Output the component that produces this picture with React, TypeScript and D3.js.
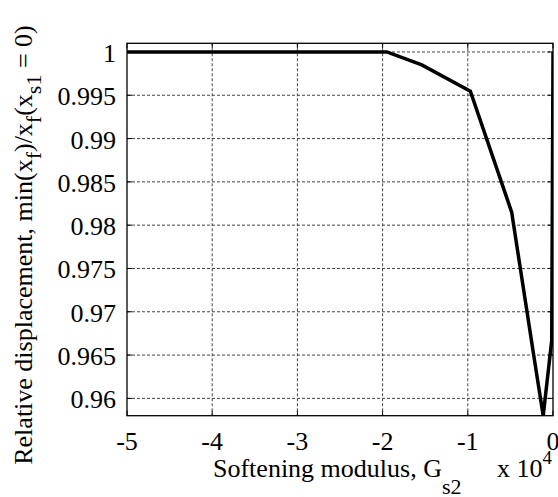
import React, { useEffect } from "react";
import * as d3 from "d3";

// Data (x in units of 1e4)
const gsValues = [-5, -1.95, -1.54, -0.97, -0.485, -0.23, -0.115, -0.015, 0];
const relDisp = [1, 1, 0.9985, 0.99547, 0.9815, 0.9652, 0.958, 0.9667, 1];
const xTicks = [-5, -4, -3, -2, -1, 0];
const xTickLabels = ["-5", "-4", "-3", "-2", "-1", "0"];
const yTicks = [0.96, 0.965, 0.97, 0.975, 0.98, 0.985, 0.99, 0.995, 1];
const yTickLabels = ["0.96", "0.965", "0.97", "0.975", "0.98", "0.985", "0.99", "0.995", "1"];

const W = 558;
const H = 497;
const L = 127;
const R = 553;
const T = 43.3;
const B = 415.7;
const FS = 26;
const FAM = "Liberation Serif";

export default function App() {
  useEffect(() => {
    document.body.style.margin = "0";
    document.body.style.fontFamily = '"Liberation Serif"';
    const st = document.createElement("style");
    st.textContent = 'svg text, svg tspan { font-family: "Liberation Serif" !important; }';
    document.head.appendChild(st);
  }, []);
  const x = d3.scaleLinear().domain([-5, 0]).range([L, R]);
  const y = d3.scaleLinear().domain([0.958, 1.001]).range([B, T]);
  const pts: [number, number][] = gsValues.map((g, i) => [g, relDisp[i]]);
  const line = d3
    .line<[number, number]>()
    .x((d) => x(d[0]))
    .y((d) => y(d[1]));
  const tickLen = 5;
  const fs = { fontFamily: `"${FAM}"` };
  return (
    <div style={{ position: "absolute", left: 0, top: 0 }}>
      <svg width={W} height={H} style={{ display: "block" }}>
        <rect x={0} y={0} width={W} height={H} fill="#fff" />
        <defs>
          <clipPath id="plotclip">
            <rect x={L} y={T} width={R - L} height={B - T} />
          </clipPath>
        </defs>
        <g stroke="#444" strokeWidth={1} strokeDasharray="3 2">
          {xTicks
            .filter((t) => t > -5 && t < 0)
            .map((t) => (
              <line key={"gx" + t} x1={x(t)} x2={x(t)} y1={T} y2={B} />
            ))}
          {yTicks.map((t) => (
            <line key={"gy" + t} x1={L} x2={R} y1={y(t)} y2={y(t)} />
          ))}
        </g>
        <g stroke="#000" strokeWidth={1}>
          {xTicks.map((t) => (
            <g key={"tx" + t}>
              <line x1={x(t)} x2={x(t)} y1={B} y2={B - tickLen} />
              <line x1={x(t)} x2={x(t)} y1={T} y2={T + tickLen} />
            </g>
          ))}
          {yTicks.map((t) => (
            <g key={"ty" + t}>
              <line x1={L} x2={L + tickLen} y1={y(t)} y2={y(t)} />
              <line x1={R} x2={R - tickLen} y1={y(t)} y2={y(t)} />
            </g>
          ))}
        </g>
        <path
          d={line(pts) || ""}
          fill="none"
          stroke="#000"
          strokeWidth={3.5}
          strokeLinejoin="miter"
          clipPath="url(#plotclip)"
        />
        <rect x={L} y={T} width={R - L} height={B - T} fill="none" stroke="#000" strokeWidth={1.3} />
        {xTicks.map((t, i) => (
          <text key={"lx" + t} x={x(t)} y={450} textAnchor="middle" fontSize={FS} fontFamily={FAM} style={fs}>
            {xTickLabels[i]}
          </text>
        ))}
        {yTicks.map((t, i) => (
          <text key={"ly" + t} x={116} y={y(t) + 10} textAnchor="end" fontSize={FS} fontFamily={FAM} style={fs}>
            {yTickLabels[i]}
          </text>
        ))}
        <text x={213} y={477} fontSize={FS} fontFamily={FAM} style={fs}>
          {"Softening modulus, G"}
          <tspan dy={17} fontSize={22}>s2</tspan>
        </text>
        <text x={497} y={477} fontSize={FS} fontFamily={FAM} style={fs}>
          {"x 10"}
          <tspan dy={-13} fontSize={19}>4</tspan>
        </text>
        <text
          transform="translate(32, 245) rotate(-90)"
          textAnchor="middle"
          fontSize={FS}
          fontFamily={FAM}
          style={fs}
        >
          {"Relative displacement, min(x"}
          <tspan dy={9} fontSize={22}>f</tspan>
          <tspan dy={-9}>{")/x"}</tspan>
          <tspan dy={9} fontSize={22}>f</tspan>
          <tspan dy={-9}>{"(x"}</tspan>
          <tspan dy={9} fontSize={22}>s1</tspan>
          <tspan dy={-9}>{" = 0)"}</tspan>
        </text>
      </svg>
    </div>
  );
}
